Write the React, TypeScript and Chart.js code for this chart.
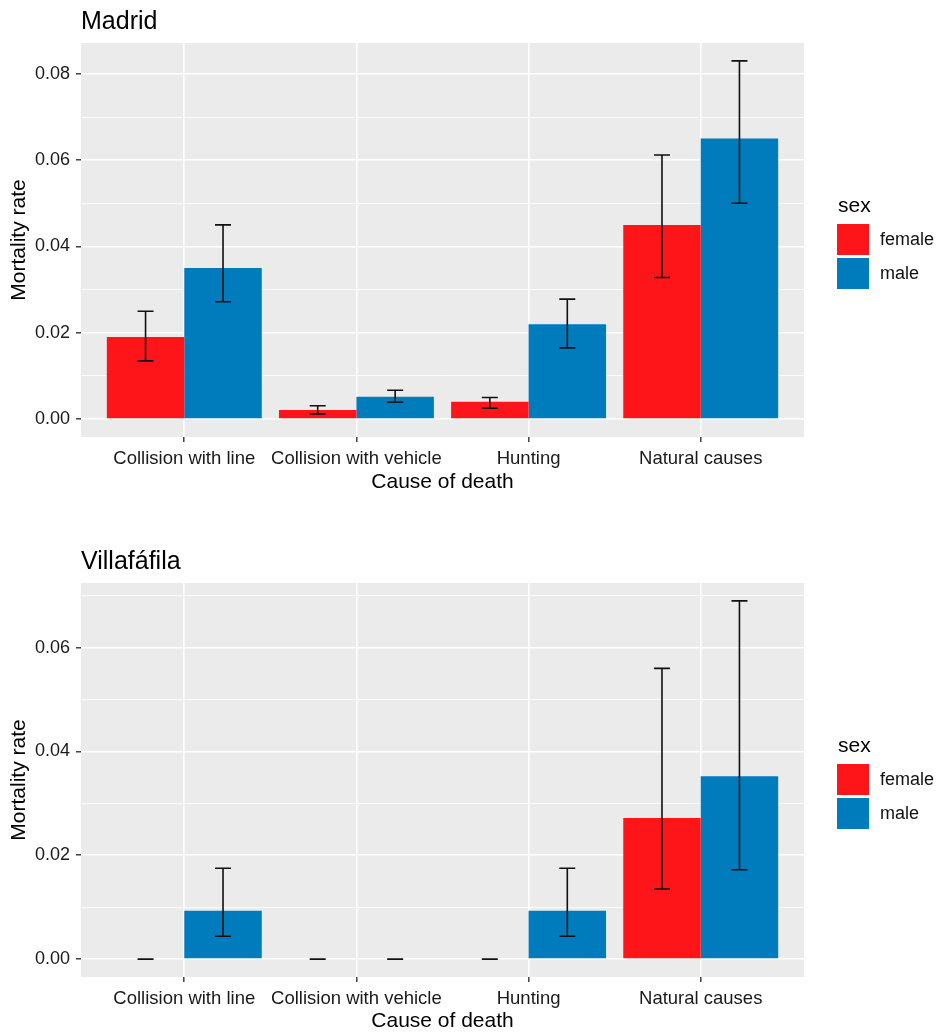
import React, { useEffect, useRef } from 'react';
import { Chart, registerables } from 'chart.js';

Chart.register(...registerables);

// ---------- data ----------
const categories = ['Collision with line', 'Collision with vehicle', 'Hunting', 'Natural causes'];
const seriesNames = ['female', 'male'];
const seriesColors = ['#FE1519', '#007BBB'];

const madridFemale = [0.019, 0.0021, 0.004, 0.045];
const madridFemaleLow = [0.0135, 0.0012, 0.0025, 0.0328];
const madridFemaleHigh = [0.025, 0.0031, 0.005, 0.0612];
const madridMale = [0.035, 0.0052, 0.022, 0.065];
const madridMaleLow = [0.0272, 0.0039, 0.0165, 0.05];
const madridMaleHigh = [0.045, 0.0067, 0.0278, 0.083];

const villaFemale = [0, 0, 0, 0.0272];
const villaFemaleLow = [0, 0, 0, 0.0135];
const villaFemaleHigh = [0, 0, 0, 0.056];
const villaMale = [0.0093, 0, 0.0093, 0.0352];
const villaMaleLow = [0.0044, 0, 0.0044, 0.0172];
const villaMaleHigh = [0.0175, 0, 0.0175, 0.069];

const madridYTicks = [0, 0.01, 0.02, 0.03, 0.04, 0.05, 0.06, 0.07, 0.08];
const villaYTicks = [0, 0.01, 0.02, 0.03, 0.04, 0.05, 0.06, 0.07];
const madridYRange = [-0.00415, 0.08715];
const villaYRange = [-0.00345, 0.07245];
const xRange = [0.4, 4.6];

const FONT = '"Liberation Sans", Arial, Helvetica, sans-serif';

// ---------- plugins ----------
const panelBg = {
  id: 'panelBg',
  beforeDraw(chart: any) {
    const { ctx, chartArea: a } = chart;
    ctx.save();
    ctx.fillStyle = '#EBEBEB';
    ctx.fillRect(a.left, a.top, a.right - a.left, a.bottom - a.top);
    ctx.restore();
  },
};

const errorBars = {
  id: 'errorBars',
  afterDatasetsDraw(chart: any) {
    const { ctx } = chart;
    const ys = chart.scales.y;
    ctx.save();
    ctx.strokeStyle = '#111111';
    ctx.lineWidth = 1.6;
    chart.data.datasets.forEach((ds: any, d: number) => {
      const meta = chart.getDatasetMeta(d);
      meta.data.forEach((el: any, i: number) => {
        const x = el.x;
        const y1 = ys.getPixelForValue(ds.errLow[i]);
        const y2 = ys.getPixelForValue(ds.errHigh[i]);
        ctx.beginPath();
        ctx.moveTo(x, y1);
        ctx.lineTo(x, y2);
        ctx.moveTo(x - 8, y1);
        ctx.lineTo(x + 8, y1);
        ctx.moveTo(x - 8, y2);
        ctx.lineTo(x + 8, y2);
        ctx.stroke();
      });
    });
    ctx.restore();
  },
};

const ggExtras = {
  id: 'ggExtras',
  afterDraw(chart: any, _args: any, opts: any) {
    const { ctx, chartArea: a } = chart;
    ctx.save();
    // panel title
    ctx.fillStyle = '#000';
    ctx.font = `25px ${FONT}`;
    ctx.textAlign = 'left';
    ctx.textBaseline = 'alphabetic';
    ctx.fillText(opts.title, a.left, a.top - 14);
    // legend
    const cy = (a.top + a.bottom) / 2;
    const lx = 837;
    ctx.font = `21px ${FONT}`;
    ctx.fillText('sex', lx + 1, cy - 28);
    chart.data.datasets.forEach((ds: any, i: number) => {
      const top = cy - 16 + i * 34;
      ctx.fillStyle = ds.backgroundColor;
      ctx.fillRect(lx, top, 32, 31);
      ctx.fillStyle = '#111';
      ctx.font = `18px ${FONT}`;
      ctx.textBaseline = 'middle';
      ctx.fillText(ds.label, lx + 43, top + 16);
      ctx.textBaseline = 'alphabetic';
    });
    ctx.restore();
  },
};

// ---------- chart factory ----------
interface PanelCfg {
  title: string;
  female: number[];
  femaleLow: number[];
  femaleHigh: number[];
  male: number[];
  maleLow: number[];
  maleHigh: number[];
  yTicks: number[];
  yRange: number[];
  top: number;
  bottom: number;
  xTitlePad: number;
}

function buildChart(canvas: HTMLCanvasElement, cfg: PanelCfg, H: number) {
  const values = [cfg.female, cfg.male];
  const lows = [cfg.femaleLow, cfg.maleLow];
  const highs = [cfg.femaleHigh, cfg.maleHigh];
  const isMajor = (v: number) => Math.round(v * 100) % 2 === 0;
  return new Chart(canvas, {
    type: 'bar',
    data: {
      datasets: seriesNames.map((name, d) => ({
        label: name,
        data: values[d].map((v, i) => ({ x: i + 1, y: v })),
        backgroundColor: seriesColors[d],
        borderWidth: 0,
        categoryPercentage: 0.9,
        barPercentage: 1.0,
        errLow: lows[d],
        errHigh: highs[d],
      })) as any,
    },
    options: {
      animation: false,
      responsive: false,
      layout: { padding: { top: cfg.top, right: 134, left: 0, bottom: 0 } },
      plugins: {
        legend: { display: false },
        tooltip: { enabled: false },
        title: { display: false },
        ggExtras: { title: cfg.title },
      } as any,
      scales: {
        x: {
          type: 'linear',
          min: xRange[0],
          max: xRange[1],
          offset: false,
          afterBuildTicks: (s: any) => {
            s.ticks = categories.map((_, i) => ({ value: i + 1 }));
          },
          afterFit: (s: any) => {
            s.height = H - cfg.bottom;
          },
          border: { display: false },
          grid: {
            offset: false,
            color: '#FFFFFF',
            lineWidth: 1.6,
            tickColor: '#333333',
            tickWidth: 1.4,
            tickLength: 5,
          },
          ticks: {
            autoSkip: false,
            maxRotation: 0,
            padding: 6,
            color: '#1A1A1A',
            font: { family: FONT, size: 18.5 },
            callback: (v: any) => categories[Math.round(v) - 1] ?? '',
          },
          title: {
            display: true,
            text: 'Cause of death',
            color: '#000',
            font: { family: FONT, size: 21, lineHeight: 1.2 },
            padding: { top: 0, bottom: cfg.xTitlePad },
          },
        },
        y: {
          type: 'linear',
          min: cfg.yRange[0],
          max: cfg.yRange[1],
          afterBuildTicks: (s: any) => {
            s.ticks = cfg.yTicks.map((v) => ({ value: v }));
          },
          afterFit: (s: any) => {
            s.width = 81;
          },
          border: { display: false },
          grid: {
            color: '#FFFFFF',
            lineWidth: (c: any) => (c.tick && isMajor(c.tick.value) ? 1.6 : 0.8),
            tickColor: (c: any) => (c.tick && isMajor(c.tick.value) ? '#333333' : 'rgba(0,0,0,0)'),
            tickWidth: 1.4,
            tickLength: 5,
          },
          ticks: {
            autoSkip: false,
            padding: 6,
            color: '#1A1A1A',
            font: { family: FONT, size: 18 },
            callback: (v: any) => (isMajor(Number(v)) ? Number(v).toFixed(2) : ''),
          },
          title: {
            display: true,
            text: 'Mortality rate',
            color: '#000',
            font: { family: FONT, size: 21, lineHeight: 1.2 },
            padding: { top: 7, bottom: 0 },
          },
        },
      },
    } as any,
    plugins: [panelBg, errorBars, ggExtras],
  });
}

const H = 517;

function Panel({ cfg }: { cfg: PanelCfg }) {
  const ref = useRef<HTMLCanvasElement | null>(null);
  useEffect(() => {
    if (!ref.current) return;
    const chart = buildChart(ref.current, cfg, H);
    return () => chart.destroy();
  }, [cfg]);
  return <canvas ref={ref} width={938} height={H} style={{ display: 'block', width: 938, height: H }} />;
}

const madridCfg: PanelCfg = {
  title: 'Madrid',
  female: madridFemale,
  femaleLow: madridFemaleLow,
  femaleHigh: madridFemaleHigh,
  male: madridMale,
  maleLow: madridMaleLow,
  maleHigh: madridMaleHigh,
  yTicks: madridYTicks,
  yRange: madridYRange,
  top: 43,
  bottom: 437,
  xTitlePad: 22,
};

const villaCfg: PanelCfg = {
  title: 'Villafáfila',
  female: villaFemale,
  femaleLow: villaFemaleLow,
  femaleHigh: villaFemaleHigh,
  male: villaMale,
  maleLow: villaMaleLow,
  maleHigh: villaMaleHigh,
  yTicks: villaYTicks,
  yRange: villaYRange,
  top: 66,
  bottom: 460,
  xTitlePad: 0,
};

export default function App() {
  return (
    <div style={{ position: 'absolute', left: 0, top: 0, width: 938, height: 1034, background: '#fff' }}>
      <Panel cfg={madridCfg} />
      <Panel cfg={villaCfg} />
    </div>
  );
}
